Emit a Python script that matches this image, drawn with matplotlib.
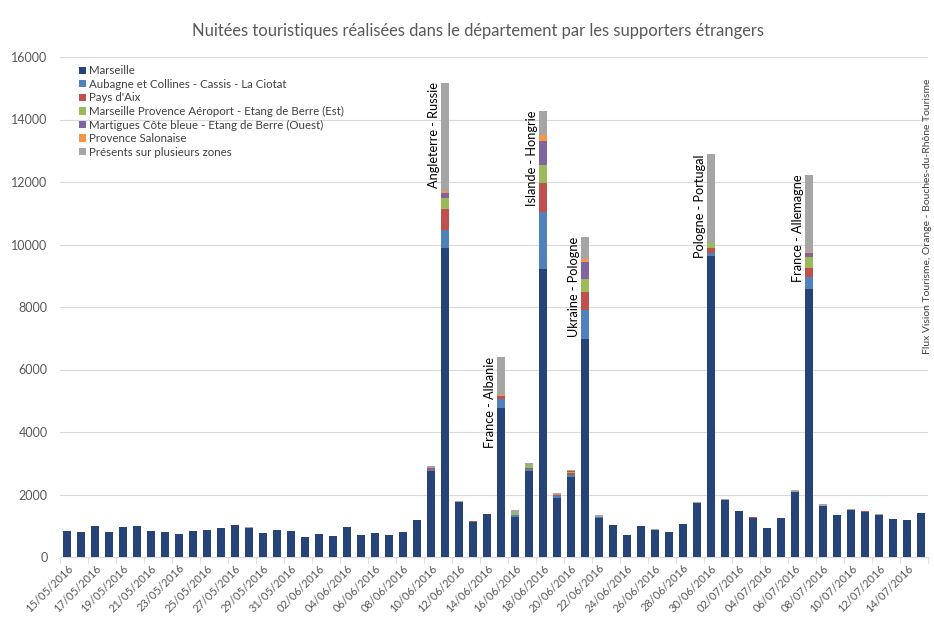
import numpy as np
import pandas as pd
import matplotlib
matplotlib.use("Agg")
import matplotlib.pyplot as plt

plt.rcParams['font.family'] = ['Lato', 'DejaVu Sans']

dates = pd.date_range("2016-05-15", "2016-07-15", freq="D")
date_labels = [d.strftime("%d/%m/%Y") for d in dates]

n = len(dates)

marseille = [820, 790, 980, 800, 960, 980, 830, 790, 725, 845,
             875, 925, 1020, 920, 780, 860, 830, 640, 745, 680,
             950, 715, 765, 690, 790, 1170, 2750, 9880, 1760, 1120,
             1385, 4757, 1280, 2750, 9216, 1900, 2560, 6966, 1260, 1035,
             690, 1000, 870, 800, 1045, 1740, 9643, 1810, 1460, 1240,
             915, 1255, 2070, 8565, 1620, 1340, 1500, 1450, 1340, 1230,
             1170, 1395]

def sparse(d):
    v = [0] * n
    for k, val in d.items():
        v[k] = val
    return v

aubagne = sparse({26: 20, 27: 600, 31: 288, 32: 80, 33: 60, 34: 1835, 35: 40,
                  36: 80, 37: 938, 38: 10, 46: 96, 52: 10, 53: 406})
pays_aix = sparse({13: 15, 26: 50, 27: 660, 29: 30, 31: 107, 33: 50, 34: 906,
                   35: 30, 36: 60, 37: 586, 46: 160, 49: 30, 53: 288, 54: 20,
                   57: 20, 58: 15})
mpa = sparse({27: 340, 32: 50, 33: 70, 34: 587, 35: 30, 36: 30, 37: 406,
              46: 138, 53: 352})
martigues = sparse({26: 40, 27: 160, 31: 5, 33: 30, 34: 779, 36: 30, 37: 554,
                    46: 15, 53: 106})
salonaise = sparse({27: 85, 31: 32, 34: 181, 36: 10, 37: 75, 46: 8, 53: 54})
plusieurs = sparse({13: 15, 20: 15, 25: 15, 26: 50, 27: 3455, 28: 20, 31: 1206,
                    32: 80, 33: 60, 34: 779, 35: 50, 36: 30, 37: 725, 38: 60,
                    42: 15, 45: 20, 46: 2827, 47: 60, 52: 50, 53: 2453, 54: 50,
                    55: 20, 56: 25, 58: 20})

series_names = ["Marseille",
                "Aubagne et Collines - Cassis - La Ciotat",
                "Pays d'Aix",
                "Marseille Provence Aéroport - Etang de Berre (Est)",
                "Martigues Côte bleue - Etang de Berre (Ouest)",
                "Provence Salonaise",
                "Présents sur plusieurs zones"]
series_values = [marseille, aubagne, pays_aix, mpa, martigues, salonaise, plusieurs]
colors = ["#264478", "#4F81BD", "#C0504D", "#9BBB59", "#8064A2", "#F79646", "#A5A5A5"]

match_idx = [27, 31, 34, 37, 46, 53]
match_labels = ["Angleterre - Russie", "France - Albanie", "Islande - Hongrie",
                "Ukraine - Pologne", "Pologne - Portugal", "France - Allemagne"]

fig = plt.figure(figsize=(9.34, 6.17), dpi=100)
ax = fig.add_axes([60 / 934, 60 / 617, 868 / 934, 500 / 617])

x = np.arange(n)
bottom = np.zeros(n)
for name, vals, c in zip(series_names, series_values, colors):
    v = np.array(vals, dtype=float)
    ax.bar(x, v, bottom=bottom, width=0.55, color=c, label=name, zorder=3)
    bottom += v

totals = bottom
for i, lab in zip(match_idx, match_labels):
    ax.text(i - 0.33, totals[i], lab, rotation=90, ha='right', va='top',
            fontsize=9.2, color='#000000', zorder=4)

ax.set_xlim(-0.5, n - 0.5)
ax.set_ylim(0, 16000)
ax.set_yticks(np.arange(0, 16001, 2000))
ax.yaxis.grid(True, color='#D9D9D9', linewidth=0.8, zorder=0)
ax.set_axisbelow(True)
for s in ['top', 'right', 'left']:
    ax.spines[s].set_visible(False)
ax.spines['bottom'].set_color('#D9D9D9')
ax.tick_params(axis='y', length=0, labelsize=9, labelcolor='#595959', pad=9)

ax.set_xticks(x[::2])
ax.set_xticklabels(date_labels[::2], rotation=45, ha='right',
                   rotation_mode='anchor', fontsize=8, color='#595959')
ax.tick_params(axis='x', which='major', length=0, pad=4)
ax.set_xticks(np.arange(-0.5, n, 2), minor=True)
ax.tick_params(axis='x', which='minor', length=4, color='#D9D9D9')

fig.text(478 / 934, 1 - 31 / 617,
         "Nuitées touristiques réalisées dans le département par les supporters étrangers",
         ha='center', va='center', fontsize=11.9, color='#595959')

leg = ax.legend(loc='upper left', bbox_to_anchor=(0.015, 0.995), frameon=False,
                fontsize=8.3, handlelength=0.6, handleheight=0.6,
                handletextpad=0.3, labelspacing=0.22, borderpad=0.0)
for t in leg.get_texts():
    t.set_color('#404040')

fig.text(927 / 934, 1 - 216 / 617,
         "Flux Vision Tourisme, Orange - Bouches-du-Rhône Tourisme",
         rotation=90, ha='center', va='center', fontsize=7.5, color='#404040')

fig.savefig("out.png", dpi=100)
